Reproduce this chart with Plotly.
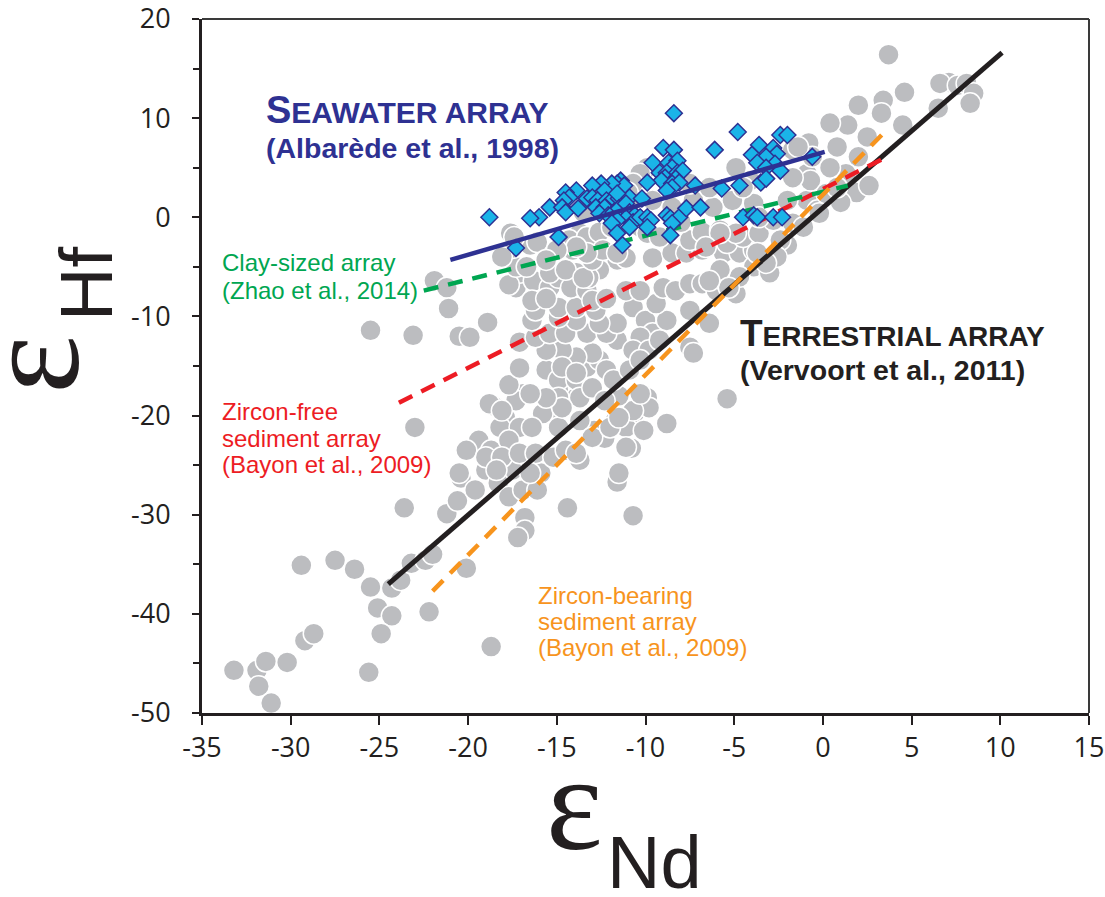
import plotly.graph_objects as go

# ---------------- data (εNd, εHf) ----------------
gray_nd = [
    -33.2, -31.9, -31.4, -31.8, -31.1, -30.2, -29.2, -28.7, -29.4, -27.5, -26.4, -25.6, -25.5, -24.3, -25.1, -24.3,
    -24.9, -23.8, -23.2, -22.4, -22.0, -20.1, -22.2, -18.7, -23.6, -21.2, -20.6, -23.0, -25.5, -23.1, -21.9, -21.2,
    -21.1, -20.5, -19.9, -18.9, -17.1, -5.4, -8.8, -10.7, -11.6, -14.4, -16.8, -16.8, -17.2,
    -18.6, -16.9, -14.9, -13.9, -9.9, -10.6, -11.7, -11.1, -10.1, -10.8, -13.7, -12.3, -12.9, -13.7, -15.5, -16.5,
    -17.9, -19.4, -20.1, -18.7, -17.7, -16.9, -15.9, -17.5, -19.0, -20.4, -19.6, -18.3, -17.7, -16.9, -16.1,
    -18.8, -18.2, -17.1, -17.7, -19.0, -18.1, -17.1, -16.2, -18.4, -20.5, -16.5, -15.2, -14.5, -11.5, -13.9, -13.0,
    -12.0, -14.9, -15.8, -16.4, -17.3, -18.1, -11.1, -9.8, -10.7, -11.5,
    -15.6, -14.9, -13.9, -13.3, -12.6, -12.2, -11.6, -13.0, -13.9, -14.7, -15.6, -16.2, -15.4, -14.5, -13.3, -12.2,
    -11.6, -12.6, -13.9, -14.9, -16.4, -16.2, -14.9, -13.9, -12.8, -10.7, -10.0, -9.6, -10.3, -10.7, -9.8, -9.2,
    -8.8, -9.4, -14.7, -13.9, -14.9, -13.7, -13.0, -14.7, -15.6, -16.5, -10.3, -11.5, -12.3, -11.8, -10.9, -10.3,
    -17.7, -17.1, -7.5, -6.4, -7.5, -7.3,
    -17.3, -17.1, -16.3, -15.4, -16.4, -15.6, -14.9, -13.9, -14.2, -13.3, -12.3, -11.6, -11.1, -12.6, -13.2, -9.6,
    -8.5, -7.7, -6.8, -5.6, -4.7, -3.9, -3.2, -2.6, -2.0, -13.0, -12.2, -11.1, -10.3, -9.0, -8.3, -7.5,
    -6.8, -6.0, -5.4, -4.9, -3.9, -3.0, -4.7, -5.8, -5.3, -6.4, -17.7, -17.3, -15.4, -14.5, -13.5, -13.0,
    -14.1, -13.7, -17.6, -17.5, -16.5,
    -17.4, -16.1, -14.3, -13.3, -12.6, -11.9, -10.3, -9.9, -9.2, -7.5, -6.8, -5.8, -5.4, -4.5, -3.6, -2.4,
    -1.7, -0.9, -0.3, -0.9, -1.7, -0.8, -4.1, -5.1, -6.2, -7.3, -7.5, -6.4, -9.9, -10.3, -10.7, -10.7,
    -9.6, -12.4, -13.3, -11.6, -13.9, -15.0, -15.6, -18.1, -16.7, -12.0, -11.0, -13.5, -8.5, -8.0, -12.5,
    3.7, 7.1, 6.6, 7.6, 8.1, 8.5, 8.3, 6.5, 4.6, 3.4, 2.0, 3.3, 4.5, 1.4, 0.4, 2.5,
    0.8, 2.0, 1.9, 1.3, -0.6, -1.4, 0.4, -0.7, 0.2, -0.2, -1.1, -2.6, -3.2, -3.7, -4.9, -5.8,
    -6.6, -3.9, -4.5, -4.9, -1.7, -2.0, -2.8, -3.6, 2.6, 1.0, 0.8,
]
gray_hf = [
    -45.7, -45.7, -44.8, -47.3, -49.0, -44.9, -42.7, -42.0, -35.1, -34.6, -35.5, -45.9, -37.3, -37.4, -39.4, -40.2,
    -42.0, -36.6, -34.9, -34.6, -34.0, -35.4, -39.8, -43.3, -29.3, -29.9, -28.6, -21.2, -11.4, -11.9, -6.4, -7.1,
    -9.2, -12.0, -12.1, -10.6, -12.6, -18.3, -20.8, -30.1, -26.7, -29.3, -30.3, -31.6, -32.3,
    -19.0, -17.8, -17.5, -18.2, -18.2, -19.7, -20.5, -21.2, -21.5, -23.3, -24.5, -22.3, -21.5, -20.5, -19.8, -21.2,
    -20.2, -22.5, -23.5, -23.5, -24.2, -25.2, -25.8, -25.5, -25.5, -26.3, -27.5, -26.8, -28.2, -27.5, -27.5,
    -18.8, -21.2, -21.2, -22.5, -24.2, -24.2, -23.8, -23.8, -25.5, -25.8, -25.8, -24.2, -23.5, -25.8, -23.8, -22.2,
    -21.2, -21.2, -19.8, -21.2, -18.5, -19.5, -23.2, -19.2, -19.5, -20.2,
    -15.4, -16.4, -16.4, -15.1, -14.4, -15.4, -12.4, -13.7, -14.1, -13.4, -13.4, -12.1, -11.7, -11.7, -11.7, -11.7,
    -10.7, -10.7, -10.4, -10.1, -10.4, -9.4, -9.1, -9.1, -9.4, -9.1, -10.4, -11.7, -12.1, -13.4, -13.4, -12.4,
    -10.4, -8.7, -15.1, -15.7, -18.2, -18.2, -17.2, -19.2, -18.2, -17.8, -17.8, -18.0, -18.5, -16.4, -15.4, -14.4,
    -16.9, -15.2, -9.4, -10.7, -13.1, -13.7,
    -7.1, -5.6, -6.4, -7.1, -8.4, -8.2, -6.1, -5.6, -7.1, -7.4, -4.0, -4.3, -4.1, -5.3, -6.1, -4.1,
    -3.6, -3.6, -3.3, -3.6, -3.6, -3.3, -4.5, -3.6, -2.8, -8.4, -8.2, -7.4, -7.4, -7.1, -7.4, -6.7,
    -6.7, -7.4, -6.7, -7.7, -5.0, -5.6, -6.0, -5.3, -7.1, -6.4, -6.8, -5.0, -5.6, -5.3, -6.1, -4.3,
    -3.3, -1.6, -1.6, -3.1, -2.8,
    -2.0, -2.5, -2.3, -2.0, -1.5, -1.0, -1.0, -1.6, -2.0, -2.3, -1.5, -1.3, -2.6, -2.0, -1.6, -2.3,
    -0.6, 1.7, 0.7, 4.4, 6.8, 7.5, 3.7, 1.7, 1.0, 1.7, 3.4, 3.0, 5.0, 4.4, 3.4, 1.7,
    1.7, -3.3, -3.6, -3.6, -3.0, -3.3, -4.3, -4.0, -5.0, 0.5, 2.5, 0.5, 1.0, -0.5, 2.0,
    16.4, 13.6, 13.5, 13.3, 13.5, 12.5, 11.5, 11.0, 12.6, 11.8, 11.3, 10.5, 9.3, 9.3, 9.5, 8.1,
    7.1, 6.1, 2.5, 4.4, 6.1, 7.1, 5.0, 3.7, 2.4, 0.4, -1.0, -4.0, -4.6, -3.6, -1.6, -1.6,
    -3.0, 1.4, 3.0, 5.0, 4.0, 1.7, -0.3, 0.0, 3.2, 1.5, 3.0,
]

sea_nd = [
    -8.4, -4.8, -2.4, -2.0, -6.1, -9.0, -8.4, -3.6, -2.8, -2.6, -4.0, -3.2, -3.7, -2.7, -2.4, -3.2,
    -3.5, -3.2, -0.6, -9.6, -8.7, -8.2, -8.5, -9.2, -8.8, -8.2, -7.9, -8.9, -8.3, -9.1, -9.9, -8.5,
    -8.1, -8.5, -7.2, -5.7, -4.7, -8.8, -11.4, -11.6, -11.2, -11.9, -12.5, -13.0, -12.3, -13.9, -14.5, -14.3,
    -14.6, -13.3, -13.0, -12.7, -12.2, -11.8, -11.5, -10.9, -10.2, -11.6, -15.4, -16.0, -16.5, -14.7, -14.5, -13.8,
    -12.8, -12.3, -12.6, -12.1, -11.8, -11.5, -11.1, -10.9, -10.6, -11.1, -11.6, -11.9, -10.7, -10.3, -9.9, -9.7,
    -8.8, -8.6, -8.1, -7.7, -6.9, -9.9, -8.5, -11.6, -10.9, -8.6, -11.3, -14.9, -17.3, -18.8, -4.5, -3.9,
    -3.7, -2.8, -2.3,
]
sea_hf = [
    10.5, 8.6, 8.3, 8.3, 6.8, 7.0, 6.8, 7.3, 7.0, 6.4, 6.3, 6.1, 5.5, 5.4, 4.7, 5.0,
    3.5, 3.9, 6.1, 5.5, 5.5, 5.7, 5.0, 4.5, 4.5, 4.5, 4.7, 4.0, 3.9, 3.7, 3.5, 3.4,
    3.5, 3.0, 3.2, 2.9, 3.2, 2.7, 3.7, 3.4, 3.2, 3.4, 3.4, 3.2, 2.7, 2.7, 2.5, 2.0,
    1.7, 1.9, 2.0, 1.7, 1.7, 1.9, 1.9, 2.0, 1.9, 2.4, 1.0, 0.0, -0.1, 1.0, 0.5, 0.9,
    1.0, 1.0, 0.4, 0.2, 0.5, 0.9, 1.4, 0.5, 0.2, -0.1, -0.3, -0.6, -0.5, 0.0, 0.0, -0.3,
    0.2, -0.1, 0.0, 0.9, 1.0, -1.0, -0.6, -1.6, -1.0, -1.8, -2.8, -2.0, -3.1, 0.0, 0.0, 0.2,
    0.0, 0.0, 0.0,
]

# array lines (end points)
terr_nd = [-24.5, 10.1]
terr_hf = [-37.0, 16.6]
seaw_nd = [-21.0, 0.1]
seaw_hf = [-4.3, 6.6]
clay_nd = [-22.5, 1.4]
clay_hf = [-7.4, 3.2]
zfree_nd = [-23.9, 3.6]
zfree_hf = [-18.7, 6.1]
zbear_nd = [-22.0, 3.7]
zbear_hf = [-37.7, 9.0]

x_ticks = [-35, -30, -25, -20, -15, -10, -5, 0, 5, 10, 15]
y_ticks = [-50, -40, -30, -20, -10, 0, 10, 20]

# ---------------- colours ----------------
C_GRAY = "#bcbdc0"
C_BLUE = "#2e3192"
C_CYAN = "#1ab4e8"
C_GREEN = "#00a651"
C_RED = "#ed1c24"
C_ORANGE = "#f7941d"
C_BLACK = "#231f20"

fig = go.Figure()

fig.add_trace(go.Scatter(
    x=gray_nd, y=gray_hf, mode="markers",
    marker=dict(size=21, color=C_GRAY, line=dict(color="white", width=1.5)),
    showlegend=False, hoverinfo="skip"))

fig.add_trace(go.Scatter(x=terr_nd, y=terr_hf, mode="lines",
                         line=dict(color=C_BLACK, width=5), showlegend=False))
fig.add_trace(go.Scatter(x=zfree_nd, y=zfree_hf, mode="lines",
                         line=dict(color=C_RED, width=4.5, dash="15px,10px"), showlegend=False))
fig.add_trace(go.Scatter(x=clay_nd, y=clay_hf, mode="lines",
                         line=dict(color=C_GREEN, width=4.5, dash="15px,10px"), showlegend=False))
fig.add_trace(go.Scatter(x=zbear_nd, y=zbear_hf, mode="lines",
                         line=dict(color=C_ORANGE, width=4.5, dash="15px,10px"), showlegend=False))

fig.add_trace(go.Scatter(
    x=sea_nd, y=sea_hf, mode="markers",
    marker=dict(symbol="diamond", size=13, color=C_CYAN, line=dict(color=C_BLUE, width=1.5)),
    showlegend=False, hoverinfo="skip"))

fig.add_trace(go.Scatter(x=seaw_nd, y=seaw_hf, mode="lines",
                         line=dict(color=C_BLUE, width=4.5), showlegend=False))

TICKFONT = dict(family="Open Sans", size=27, color=C_BLACK)

fig.update_xaxes(
    range=[-35, 15], tickvals=x_ticks, ticktext=[str(v) for v in x_ticks],
    showgrid=False, zeroline=False, showline=True, linecolor=C_BLACK, linewidth=3,
    ticks="outside", ticklen=9, tickwidth=2, tickcolor=C_BLACK, tickfont=TICKFONT,
    ticklabelstandoff=0, ticklabeloverflow="allow", automargin=False)
fig.update_yaxes(
    range=[-50, 20], tickvals=y_ticks, ticktext=[str(v) for v in y_ticks],
    showgrid=False, zeroline=False, showline=True, linecolor=C_BLACK, linewidth=3,
    ticks="outside", ticklen=7, tickwidth=2, tickcolor=C_BLACK, tickfont=TICKFONT,
    ticklabelstandoff=16, ticklabeloverflow="allow", automargin=False,
    minor=dict(dtick=5, ticks="outside", ticklen=6, tickwidth=2, tickcolor=C_BLACK, showgrid=False))

# top & right frame (thinner)
fig.add_shape(type="line", xref="paper", yref="paper", x0=0, x1=1, y0=1, y1=1,
              line=dict(color="#3a3a3a", width=2))
fig.add_shape(type="line", xref="paper", yref="paper", x0=1, x1=1, y0=0, y1=1,
              line=dict(color="#3a3a3a", width=2))

SANS = "Liberation Sans, Arial"
SERIF = "Liberation Serif, Times New Roman"

def txt(x, y, text, color, size, xanchor="left"):
    fig.add_annotation(x=x, y=y, xref="x", yref="y", text=text, showarrow=False,
                       xanchor=xanchor, yanchor="middle", align="left",
                       font=dict(family=SANS, size=size, color=color))

txt(-31.5, 10.8, "<b><span style='font-size:38px'>S</span>EAWATER ARRAY</b>", C_BLUE, 30)
txt(-31.5, 7.0, "<b>(Albarède et al., 1998)</b>", C_BLUE, 28.5)
txt(-4.8, -11.7, "<b><span style='font-size:37px'>T</span>ERRESTRIAL ARRAY</b>", C_BLACK, 28)
txt(-4.8, -15.4, "<b>(Vervoort et al., 2011)</b>", C_BLACK, 28.5)
txt(-34.0, -4.6, "Clay-sized array", C_GREEN, 24)
txt(-34.0, -7.4, "(Zhao et al., 2014)", C_GREEN, 24)
txt(-34.0, -19.6, "Zircon-free", C_RED, 24)
txt(-34.0, -22.3, "sediment array", C_RED, 24)
txt(-34.0, -24.9, "(Bayon et al., 2009)", C_RED, 24)
txt(-16.15, -38.1, "Zircon-bearing", C_ORANGE, 24)
txt(-16.15, -40.8, "sediment array", C_ORANGE, 24)
txt(-16.15, -43.4, "(Bayon et al., 2009)", C_ORANGE, 24)

# axis titles (ε + subscript)
def ptxt(x, y, text, family, size, angle=0):
    fig.add_annotation(x=x, y=y, xref="paper", yref="paper", text=text, showarrow=False,
                       xanchor="center", yanchor="middle", textangle=angle,
                       font=dict(family=family, size=size, color=C_BLACK))

ptxt(0.4194, -0.131, "ε", SERIF, 135)
ptxt(0.5107, -0.2147, "Nd", SANS, 74)
ptxt(-0.1928, 0.5029, "ε", SERIF, 140, angle=-90)
ptxt(-0.1296, 0.6182, "Hf", SANS, 74, angle=-90)

fig.update_layout(
    width=1105, height=897, autosize=False,
    margin=dict(l=202, r=16, t=19, b=184),
    paper_bgcolor="white", plot_bgcolor="white",
    showlegend=False,
)

fig.write_html("out.html")
